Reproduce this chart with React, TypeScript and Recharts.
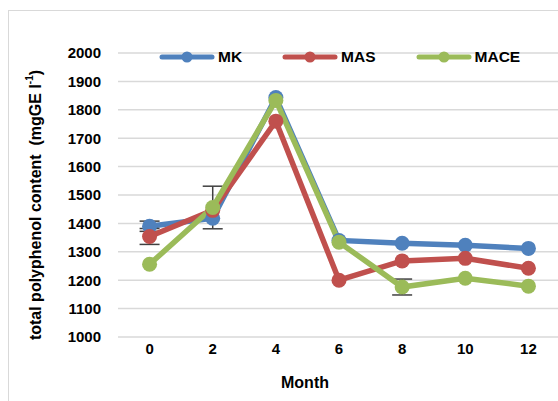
import { LineChart, Line, XAxis, YAxis, CartesianGrid, ErrorBar, Label } from "recharts";

// meses e valores
const months = [0, 2, 4, 6, 8, 10, 12];
const mk = [1390, 1418, 1843, 1340, 1330, 1323, 1312];
const mas = [1354, 1446, 1760, 1200, 1268, 1277, 1242];
const mace = [1256, 1456, 1833, 1334, 1176, 1207, 1179];
// desvios (barras de erro) - so os que aparecem
const mkErr = [18, null, null, null, null, null, null];
const masErr = [28, null, null, null, null, null, null];
const maceErr = [null, 75, null, null, 28, null, null];
const yTicks = [1000, 1100, 1200, 1300, 1400, 1500, 1600, 1700, 1800, 1900, 2000];

const SERIES = [
  { key: "MK", err: "MKerr", color: "#4f81bd" },
  { key: "MAS", err: "MASerr", color: "#c0504d" },
  { key: "MACE", err: "MACEerr", color: "#9bbb59" },
];

const data = months.map((m, i) => ({
  month: m,
  MK: mk[i],
  MAS: mas[i],
  MACE: mace[i],
  MKerr: mkErr[i],
  MASerr: masErr[i],
  MACEerr: maceErr[i],
}));

const FONT = "'Liberation Sans', Arial, sans-serif";

function YTitle() {
  return (
    <text
      transform="translate(26, 194) rotate(-90)"
      textAnchor="middle"
      dominantBaseline="central"
      fontFamily={FONT}
      fontWeight="bold"
      fontSize={16}
      fill="#000"
    >
      total polyphenol content{"\u00a0\u00a0"}(mgGE l
      <tspan fontSize={10} dy={-6}>-1</tspan>
      <tspan dy={6}>)</tspan>
    </text>
  );
}

export default function App() {
  return (
    <div style={{ position: "fixed", left: 0, top: 0, width: 558, height: 401, overflow: "hidden", background: "#fff" }}>
      <div
        style={{
          position: "absolute",
          left: 8,
          top: 10,
          width: 600,
          height: 420,
          borderLeft: "1.5px solid #d9d9d9",
          borderTop: "1.5px solid #d9d9d9",
        }}
      >
        <div style={{ position: "relative" }}>
          <LineChart width={551} height={390} data={data} margin={{ top: 42, right: 0, bottom: 24, left: 0 }}>
            <CartesianGrid vertical={false} stroke="#d9d9d9" strokeWidth={1.5} />
            <XAxis
              dataKey="month"
              type="number"
              domain={[-1, 13]}
              ticks={months}
              axisLine={false}
              tickLine={false}
              tickSize={0}
              tickMargin={6}
              height={40}
              tick={{ fontFamily: FONT, fontWeight: "bold", fontSize: 15, fill: "#000" }}
            >
              <Label
                value="Month"
                position="bottom"
                offset={0}
                dx={-34}
                style={{ fontFamily: FONT, fontWeight: "bold", fontSize: 16, fill: "#000" }}
              />
            </XAxis>
            <YAxis
              domain={[1000, 2000]}
              ticks={yTicks}
              width={109}
              axisLine={false}
              tickLine={false}
              tickSize={0}
              tickMargin={17}
              tick={{ fontFamily: FONT, fontWeight: "bold", fontSize: 15, fill: "#000" }}
              label={<YTitle />}
            />
            {SERIES.map((s) => (
              <Line
                key={s.key}
                dataKey={s.key}
                stroke={s.color}
                strokeWidth={5.5}
                dot={{ r: 7.5, fill: s.color, stroke: s.color, strokeWidth: 0 }}
                isAnimationActive={false}
              >
                <ErrorBar dataKey={s.err} width={10} stroke="#404040" strokeWidth={1.5} />
              </Line>
            ))}
          </LineChart>
          {/* legenda sobreposta */}
          <div
            style={{
              position: "absolute",
              left: 150,
              top: 36,
              display: "flex",
              alignItems: "center",
              fontFamily: FONT,
              fontWeight: "bold",
              fontSize: 15.5,
            }}
          >
            {SERIES.map((s) => (
              <div key={s.key} style={{ display: "flex", alignItems: "center", marginRight: 40 }}>
                <svg width={56} height={20}>
                  <line x1={3} y1={10} x2={53} y2={10} stroke={s.color} strokeWidth={5} strokeLinecap="round" />
                  <circle cx={28} cy={10} r={5.5} fill={s.color} />
                </svg>
                <span style={{ marginLeft: 3 }}>{s.key}</span>
              </div>
            ))}
          </div>
        </div>
      </div>
    </div>
  );
}
